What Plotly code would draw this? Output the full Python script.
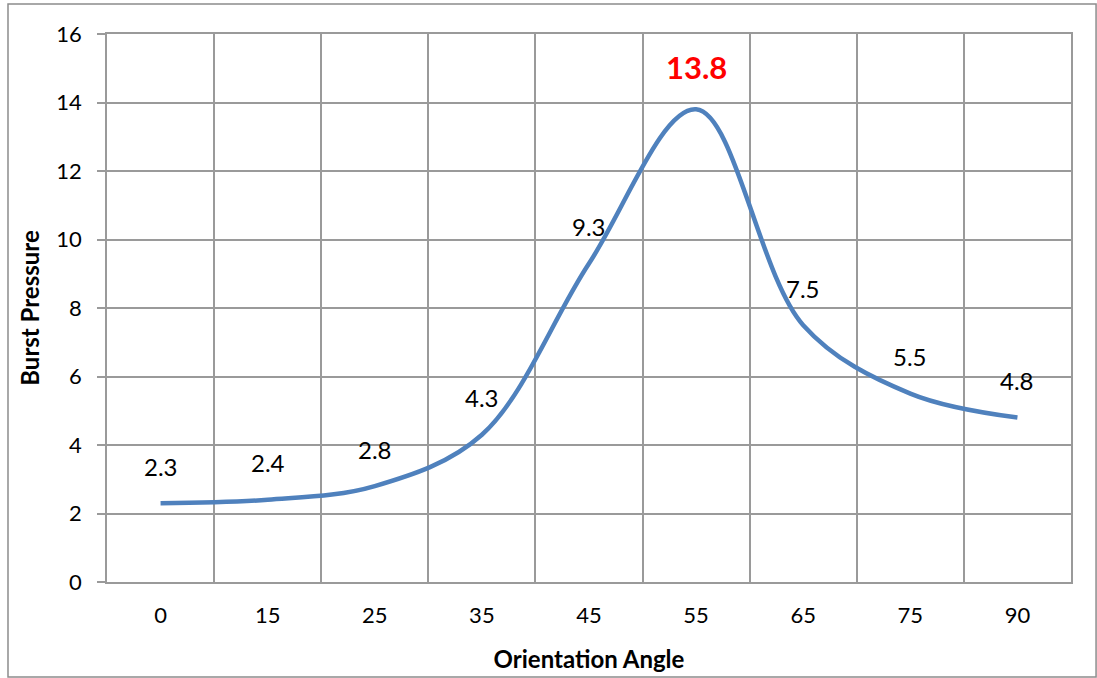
import plotly.graph_objects as go

# Burst pressure versus fibre orientation angle
angles = ["0", "15", "25", "35", "45", "55", "65", "75", "90"]
burst_pressure = [2.3, 2.4, 2.8, 4.3, 9.3, 13.8, 7.5, 5.5, 4.8]
y_ticks = [0, 2, 4, 6, 8, 10, 12, 14, 16]

FONT = "Lato, 'Open Sans', sans-serif"
GRID = "#9a9a9a"

pos = list(range(len(angles)))
peak = burst_pressure.index(max(burst_pressure))

fig = go.Figure()
fig.add_trace(go.Scatter(
    x=pos, y=burst_pressure, mode="lines",
    line=dict(color="#4F81BD", width=4.5, shape="spline", smoothing=1.0),
    hoverinfo="x+y", showlegend=False,
))

# value labels above each point; the maximum is highlighted
for i, v in enumerate(burst_pressure):
    if i == peak:
        fig.add_annotation(x=pos[i], y=v, text=f"<b>{v}</b>", showarrow=False,
                           yshift=42, font=dict(family=FONT, size=31, color="#FF0000"))
    else:
        fig.add_annotation(x=pos[i], y=v, text=f"{v}", showarrow=False,
                           yshift=37, font=dict(family=FONT, size=24, color="#000000"))

# chart-area border
fig.add_shape(type="rect", xref="paper", yref="paper",
              x0=-0.1027, x1=1.026, y0=-0.1734, y1=1.0547,
              line=dict(color="#8c8c8c", width=1.5), layer="below")

fig.update_layout(
    width=1097, height=678,
    margin=dict(l=107, r=26, t=34, b=96),
    paper_bgcolor="white", plot_bgcolor="white",
    font=dict(family=FONT, size=22, color="#000000"),
    xaxis=dict(
        range=[-0.5, len(angles) - 0.5],
        tickmode="array", tickvals=pos, ticktext=angles,
        showgrid=False, zeroline=False, automargin=False,
        ticks="", ticklabelstandoff=13,
        minor=dict(tickmode="array",
                   tickvals=[p - 0.5 for p in pos] + [pos[-1] + 0.5],
                   showgrid=True, gridcolor=GRID, gridwidth=1.5, ticks=""),
        showline=True, linecolor=GRID, linewidth=1.5, mirror=True,
        title=dict(text="<b>Orientation Angle</b>", font=dict(size=24), standoff=24),
        tickfont=dict(size=22),
    ),
    yaxis=dict(
        range=[0, 16], tickmode="array", tickvals=y_ticks,
        showgrid=True, gridcolor=GRID, gridwidth=1.5, zeroline=False,
        automargin=False,
        ticks="outside", ticklen=8, tickcolor=GRID, tickwidth=1.5,
        ticklabelstandoff=11,
        showline=True, linecolor=GRID, linewidth=1.5, mirror=True,
        title=dict(text="<b>Burst Pressure</b>", font=dict(size=24), standoff=10),
        tickfont=dict(size=22),
    ),
)

fig.write_html("out.html")
